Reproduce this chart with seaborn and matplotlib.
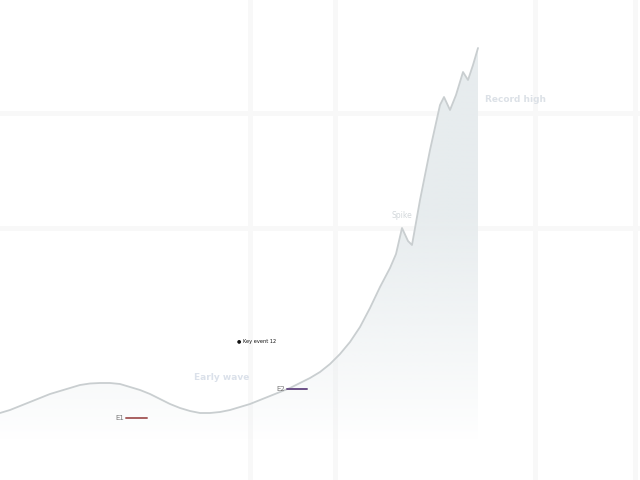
import numpy as np
import pandas as pd
import matplotlib
matplotlib.use("Agg")
import matplotlib.pyplot as plt
import seaborn as sns

# ---- data ----
day = [0, 10, 20, 30, 40, 50, 60, 70, 80, 90, 100, 110, 120, 130, 140, 150,
       160, 170, 180, 190, 200, 210, 220, 230, 240, 250, 260, 270, 280, 290,
       300, 310, 320, 330, 340, 350, 360, 370, 380, 390, 396, 402, 408, 412,
       420, 430, 440, 444, 450, 456, 463, 468, 473, 478]
value = [67, 70, 74, 78, 82, 86, 89, 92, 95, 96.5, 97, 97, 96, 93, 90, 86,
         81, 76, 72, 69, 67, 67, 68, 70, 73, 76, 80, 84, 88, 92,
         97, 102, 108, 116, 126, 138, 153, 172, 193, 212, 226, 252, 239, 235,
         280, 330, 375, 383, 370, 385, 408, 400, 415, 432]

grid_x = [250, 335, 535, 635]
grid_y = [252, 367]

event_labels = ["E1", "E2"]
event_start = [126, 287]
event_end = [147, 307]
event_level = [62, 91]
event_colors = ["#a86060", "#6b4f86"]

annotations = ["Early wave", "Spike", "Record high"]
annot_x = [222, 402, 485]
annot_y = [103, 265, 380]

sns.set_theme(style="white")
fig = plt.figure(figsize=(6.4, 4.8), dpi=100)
ax = fig.add_axes([0, 0, 1, 1])

# grid
for gx in grid_x:
    ax.axvline(gx, color="#f8f8f8", lw=3.5, zorder=0)
for gy in grid_y:
    ax.axhline(gy, color="#f8f8f8", lw=3.5, zorder=0)

df = pd.DataFrame({"day": day, "value": value})

# gradient fill under the curve
poly = ax.fill_between(df["day"], df["value"], 0, color="none", lw=0)
yy = np.linspace(0, 480, 400)
alpha = np.clip((yy - 40) / 230.0, 0, 1) ** 0.9
rgb = matplotlib.colors.to_rgb("#e7ecee")
img = np.zeros((len(yy), 1, 4))
img[:, 0, 0:3] = rgb
img[:, 0, 3] = alpha
im = ax.imshow(img, extent=[min(day), max(day), 0, 480], origin="lower",
               aspect="auto", zorder=1)
path = poly.get_paths()[0]
im.set_clip_path(path, transform=ax.transData)

sns.lineplot(data=df, x="day", y="value", ax=ax, color="#c9ced0", lw=1.3,
             zorder=3)
ax.set_xlim(0, 640)
ax.set_ylim(0, 480)
ax.set_axis_off()

# faint annotations
ax.text(annot_x[0], annot_y[0], annotations[0], fontsize=6.5, color="#dbe1ea",
        ha="center", va="center", fontweight="bold")
ax.text(annot_x[1], annot_y[1], annotations[1], fontsize=5.5, color="#d3d8db",
        ha="center", va="center")
ax.text(annot_x[2], annot_y[2], annotations[2], fontsize=6.5, color="#dce1e7",
        ha="left", va="center", fontweight="bold")

ax.text(237, 138, "● Key event 12", fontsize=3.6, color="#111111",
        ha="left", va="center")

for lab, s, e, lv, c in zip(event_labels, event_start, event_end,
                            event_level, event_colors):
    ax.plot([s, e], [lv, lv], color=c, lw=1.4, zorder=4)
    ax.text(s - 2, lv, lab, fontsize=5, color="#777777", ha="right",
            va="center")

fig.savefig("out.png", dpi=100)
